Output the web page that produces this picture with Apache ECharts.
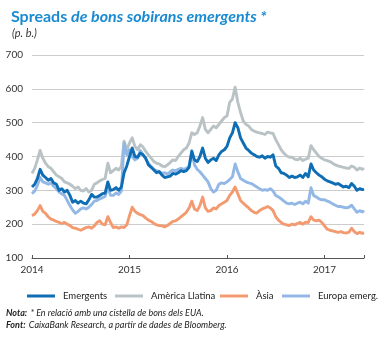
<!DOCTYPE html>
<html>
<head>
<meta charset="utf-8">
<script src="https://cdn.jsdelivr.net/npm/echarts@6/dist/echarts.min.js"></script>
<style>
  html, body { margin: 0; padding: 0; background: #ffffff; }
  #chart { width: 386px; height: 338px; }
</style>
</head>
<body>
<div id="chart"></div>
<script>
// Sovereign bond spreads (basis points), sampled on days 1, 11 and 21 of each month,
// January 2014 to May 2017, plus one closing observation at the end of May 2017.
const seriesNames = ['Emergents', 'Amèrica Llatina', 'Àsia', 'Europa emerg.'];
const yearTicks = [2014, 2015, 2016, 2017];
const yTicks = [100, 200, 300, 400, 500, 600, 700];
const lastObservation = 2017.405; // 29 May 2017, as decimal year

const emergents = [
  // 2014
  310, 318, 335,  362, 345, 338,  330, 335, 322,  318, 300, 305,
  295, 300, 285,  265, 270, 262,  268, 262, 260,  272, 288, 280,
  280, 285, 290,  292, 325, 300,  302, 308, 300,  310, 352, 372,
  // 2015
  400, 425, 400,  398, 410, 405,  395, 375, 368,  360, 352, 355,
  345, 338, 340,  342, 350, 348,  352, 358, 355,  358, 368, 415,
  390, 385, 400,  425, 395, 382,  390, 395, 388,  405, 415, 420,
  // 2016
  430, 455, 470,  500, 485, 455,  440, 425, 418,  410, 405, 400,
  398, 402, 395,  400, 398, 405,  372, 365, 352,  350, 345, 338,
  342, 338, 340,  345, 338, 350,  340, 378, 360,  352, 345, 340,
  // 2017
  333, 328, 325,  322, 318, 320,  315, 310, 312,  308, 320, 312,
  300, 305, 302,  304
];

const americaLlatina = [
  // 2014
  350, 365, 390,  418, 395, 380,  370, 365, 355,  345, 340, 335,
  325, 322, 318,  312, 305, 310,  300, 298, 305,  295, 300, 318,
  322, 328, 332,  335, 380, 352,  358, 365, 360,  372, 445, 420,
  // 2015
  440, 455, 430,  420, 435, 428,  415, 405, 395,  385, 380, 378,
  372, 370, 375,  382, 390, 388,  400, 410, 420,  425, 440, 470,
  465, 470, 490,  515, 480, 470,  480, 490, 485,  495, 505, 515,
  // 2016
  520, 560, 570,  605, 560, 530,  505, 495, 490,  480, 475, 472,
  470, 468, 465,  472, 470, 468,  450, 435, 420,  410, 402, 398,
  398, 392, 390,  395, 388, 392,  395, 432, 420,  410, 400, 395,
  // 2017
  390, 388, 385,  380, 375, 372,  370, 368, 366,  365, 372, 368,
  360, 366, 362,  365
];

const asia = [
  // 2014
  225, 230, 240,  255, 238, 232,  222, 215, 212,  208, 205, 202,
  205, 200, 196,  190, 188, 185,  182, 186, 190,  192, 188, 195,
  205, 210, 200,  198, 222, 205,  190, 192, 188,  192, 190, 198,
  // 2015
  225, 250, 238,  232, 228, 225,  218, 212, 208,  202, 198, 196,
  195, 192, 196,  202, 208, 210,  215, 222, 228,  235, 248, 268,
  245, 240, 255,  280, 248, 238,  240, 248, 245,  255, 260, 265,
  // 2016
  270, 285, 295,  310, 290, 270,  262, 255, 248,  240, 235, 233,
  240, 245, 248,  252, 248, 240,  222, 212, 205,  200, 198, 196,
  200, 198, 202,  205, 200, 206,  205, 222, 212,  210, 212, 205,
  // 2017
  195, 185, 182,  180, 178, 176,  178, 175, 174,  176, 188, 178,
  172, 176, 173,  175
];

const europaEmerg = [
  // 2014
  290, 298, 315,  338, 325, 322,  318, 322, 312,  305, 295, 290,
  285, 270, 255,  242, 232, 238,  245, 248, 245,  250, 258, 268,
  270, 275, 278,  282, 310, 285,  285, 292, 288,  298, 440, 405,
  // 2015
  420, 400, 390,  395, 418, 405,  392, 380, 370,  362, 358, 355,
  350, 352, 348,  355, 360, 358,  362, 365, 362,  365, 372, 418,
  375, 362, 355,  345, 335, 325,  305, 295, 300,  318, 322, 320,
  // 2016
  325, 332, 340,  378, 355, 335,  330, 325, 322,  320, 315, 310,
  305, 300, 302,  300, 305, 298,  285, 280, 275,  268, 262, 260,
  262, 258, 262,  265, 260, 268,  262, 308, 285,  280, 275, 272,
  // 2017
  272, 268, 265,  260, 256, 252,  252, 250, 248,  250, 256, 245,
  235, 240, 236,  240
];

const colors = ['#0e6db3', '#b9c3c5', '#f39a70', '#93b8e6'];

// Decimal-year position of each observation (days 1, 11, 21 of every month).
function toPairs(values) {
  return values.map(function (v, i) {
    const t = i === values.length - 1 ? lastObservation : yearTicks[0] + (i / 3) / 12;
    return [t, v];
  });
}

function lineSeries(name, values, color, z) {
  return {
    name: name,
    type: 'line',
    data: toPairs(values),
    showSymbol: false,
    symbol: 'none',
    z: z,
    lineStyle: { color: color, width: 2.9, join: 'round' },
    itemStyle: { color: color },
    emphasis: { disabled: true }
  };
}

const chart = echarts.init(document.getElementById('chart'), null, { renderer: 'canvas' });

const font = 'Lato, "Open Sans", sans-serif';

// One legend block per series so each key sits at its own spot on the row.
const legendLefts = [22, 110, 215, 277];
const legends = seriesNames.map(function (name, i) {
  return {
    data: [name],
    left: legendLefts[i],
    top: 286,
    icon: 'rect',
    itemWidth: 28,
    itemHeight: 3,
    selectedMode: false,
    textStyle: { color: '#222222', fontSize: 9.5, fontFamily: font, padding: [0, 0, 0, 3] }
  };
});

chart.setOption({
  animation: false,
  backgroundColor: '#ffffff',
  textStyle: { fontFamily: font },
  grid: { left: 32, right: 22, top: 55, bottom: 80, containLabel: false },
  xAxis: {
    type: 'value',
    min: yearTicks[0],
    max: lastObservation,
    interval: 1,
    axisLine: { show: true, lineStyle: { color: '#555555', width: 1 } },
    axisTick: { show: true, inside: true, length: 3, lineStyle: { color: '#555555' } },
    splitLine: { show: false },
    axisLabel: {
      color: '#333333', fontSize: 10, fontFamily: font, margin: 7,
      formatter: function (v) { return yearTicks.indexOf(v) >= 0 ? String(v) : ''; }
    }
  },
  yAxis: {
    type: 'value',
    min: yTicks[0],
    max: yTicks[yTicks.length - 1],
    interval: 100,
    axisLine: { show: false },
    axisTick: { show: false },
    splitLine: { show: true, lineStyle: { color: '#cccccc', width: 1 } },
    axisLabel: { color: '#333333', fontSize: 10, fontFamily: font, margin: 9 }
  },
  legend: legends,
  title: [{
    left: 6, top: 4,
    text: '{a|Spreads }{b|de bons sobirans emergents *}',
    textStyle: {
      rich: {
        a: { color: '#1a8bd2', fontSize: 16, fontWeight: 'bold', fontFamily: font },
        b: { color: '#1a8bd2', fontSize: 16, fontWeight: 'bold', fontStyle: 'italic', fontFamily: font }
      }
    }
  }, {
    left: 7, top: 23,
    text: '(p. b.)',
    textStyle: { color: '#333333', fontSize: 11, fontStyle: 'italic', fontWeight: 'normal', fontFamily: font }
  }],
  graphic: [{
    type: 'text', left: 6, top: 307,
    style: {
      text: '{b|Nota:} {i|* En relació amb una cistella de bons dels EUA.}',
      rich: {
        b: { fontSize: 9, fontWeight: 'bold', fontStyle: 'italic', fill: '#222222', fontFamily: font },
        i: { fontSize: 9, fontStyle: 'italic', fill: '#222222', fontFamily: font }
      }
    }
  }, {
    type: 'text', left: 6, top: 319,
    style: {
      text: '{b|Font:} {i|CaixaBank Research, a partir de dades de Bloomberg.}',
      rich: {
        b: { fontSize: 9, fontWeight: 'bold', fontStyle: 'italic', fill: '#222222', fontFamily: font },
        i: { fontSize: 9, fontStyle: 'italic', fill: '#222222', fontFamily: font }
      }
    }
  }],
  series: [
    lineSeries(seriesNames[0], emergents, colors[0], 5),
    lineSeries(seriesNames[1], americaLlatina, colors[1], 2),
    lineSeries(seriesNames[2], asia, colors[2], 3),
    lineSeries(seriesNames[3], europaEmerg, colors[3], 4)
  ]
});
</script>
</body>
</html>
